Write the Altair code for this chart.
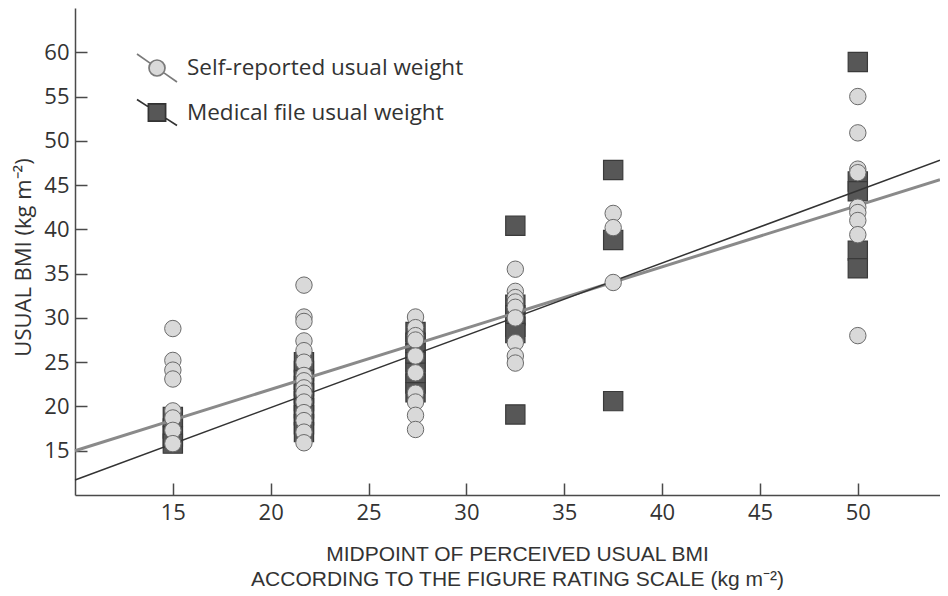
import altair as alt
import pandas as pd

# ---- data ----
x_ticks = [15, 20, 25, 30, 35, 40, 45, 50]
y_ticks = [15, 20, 25, 30, 35, 40, 45, 50, 55, 60]

self_x = ([15] * 8 + [21.7] * 15 + [27.4] * 10 + [32.5] * 9 + [37.5] * 3 + [50] * 9)
self_y = [28.8, 25.2, 24.1, 23.1, 19.5, 18.7, 17.3, 15.8,
          33.7, 30.1, 29.6, 27.4, 26.3, 25.0, 23.5, 22.9, 22.1, 21.5, 20.5, 19.3, 18.4, 17.1, 15.9,
          30.1, 28.9, 28.0, 27.5, 25.7, 23.8, 21.5, 20.5, 19.0, 17.4,
          35.5, 33.0, 32.3, 31.8, 31.2, 30.0, 27.2, 25.7, 24.9,
          41.8, 40.2, 34.0,
          55.0, 50.9, 46.8, 46.4, 42.5, 41.9, 41.0, 39.4, 28.0]

med_x = ([15] * 4 + [21.7] * 10 + [27.4] * 7 + [32.5] * 6 + [37.5] * 3 + [50] * 5)
med_y = [18.8, 17.5, 16.6, 15.8,
         25.0, 24.0, 23.0, 22.3, 21.5, 20.6, 19.8, 19.0, 18.0, 17.1,
         28.4, 27.2, 26.0, 25.0, 23.8, 22.6, 21.6,
         40.4, 31.5, 30.3, 29.0, 28.3, 19.1,
         46.7, 38.8, 20.6,
         58.9, 45.4, 44.3, 37.6, 35.6]

line_x = [10, 54.2]
self_line_y = [15.0, 45.6]
med_line_y = [11.7, 47.8]

series_names = ["Self-reported usual weight", "Medical file usual weight"]

FONT = "Open Sans"
XDOM = [10, 54.2]
YDOM = [10, 65]

self_df = pd.DataFrame({"x": self_x, "y": self_y})
med_df = pd.DataFrame({"x": med_x, "y": med_y})
self_line = pd.DataFrame({"x": line_x, "y": self_line_y})
med_line = pd.DataFrame({"x": line_x, "y": med_line_y})
legend_df = pd.DataFrame({"x": [self_x[0], med_x[0]], "y": [self_y[0], med_y[0]],
                          "series": series_names})

xs = alt.Scale(domain=XDOM, nice=False, zero=False)
ys = alt.Scale(domain=YDOM, nice=False, zero=False)

main_x_axis = alt.Axis(values=x_ticks, ticks=False, tickSize=0, grid=False, domain=True,
                       labelPadding=7, labelFontSize=22,
                       title=["MIDPOINT OF PERCEIVED USUAL BMI",
                              "ACCORDING TO THE FIGURE RATING SCALE (kg m\u207b\u00b2)"],
                       titleFont="Liberation Sans", titleFontSize=21,
                       titlePadding=20, titleLineHeight=25, titleX=442, titleAlign="center",
                       orient="bottom")
main_y_axis = alt.Axis(values=y_ticks, ticks=False, tickSize=0, grid=False, domain=True,
                       labelPadding=6, labelFontSize=22,
                       title="USUAL BMI (kg m\u207b\u00b2)", titlePadding=8, titleY=249,
                       orient="left")
tick_x_axis = alt.Axis(values=x_ticks, ticks=True, tickSize=12, labels=False, domain=False,
                       grid=False, title=None, offset=-12, orient="bottom")
tick_y_axis = alt.Axis(values=y_ticks, ticks=True, tickSize=12, labels=False, domain=False,
                       grid=False, title=None, offset=-12, orient="left")

squares = alt.Chart(med_df).mark_square(size=370, filled=True, fill="#575757",
                                        stroke="#3a3a3a", strokeWidth=1.2, opacity=1).encode(
    x=alt.X("x:Q", scale=xs, axis=main_x_axis),
    y=alt.Y("y:Q", scale=ys, axis=main_y_axis),
)

gray_line = alt.Chart(self_line).mark_line(color="#8a8a8a", strokeWidth=3).encode(
    x=alt.X("x:Q", scale=xs, axis=tick_x_axis),
    y=alt.Y("y:Q", scale=ys, axis=tick_y_axis),
)

black_line = alt.Chart(med_line).mark_line(color="#333333", strokeWidth=1.5).encode(
    x=alt.X("x:Q", scale=xs, axis=None),
    y=alt.Y("y:Q", scale=ys, axis=None),
)

circles = alt.Chart(self_df).mark_circle(size=270, fill="#d9d9d9", stroke="#6a6a6a",
                                         strokeWidth=1, opacity=1).encode(
    x=alt.X("x:Q", scale=xs, axis=None),
    y=alt.Y("y:Q", scale=ys, axis=None),
)

path_self = ("M-1,-0.7L-0.33,-0.23M0.33,0.23L1,0.7"
             "M0.4,0A0.4,0.4 0 1,1 -0.4,0A0.4,0.4 0 1,1 0.4,0Z")
path_med = ("M-1,-0.65L-0.43,-0.28M0.43,0.28L1,0.65"
            "M-0.43,-0.43L0.43,-0.43L0.43,0.43L-0.43,0.43Z")

leg = alt.Legend(title=None, orient="none", legendX=61, legendY=39, padding=0,
                 symbolSize=1600, symbolStrokeWidth=1.7, symbolOpacity=1,
                 labelFont=FONT, labelFontSize=22.5, labelColor="#333333",
                 labelOffset=9, rowPadding=5.5, labelLimit=400)

legend_layer = alt.Chart(legend_df).mark_point(filled=True, opacity=0).encode(
    x=alt.X("x:Q", scale=xs, axis=None),
    y=alt.Y("y:Q", scale=ys, axis=None),
    shape=alt.Shape("series:N", scale=alt.Scale(domain=series_names, range=[path_self, path_med]),
                    legend=leg),
    fill=alt.Fill("series:N", scale=alt.Scale(domain=series_names, range=["#d9d9d9", "#575757"]),
                  legend=leg),
    stroke=alt.Stroke("series:N", scale=alt.Scale(domain=series_names, range=["#7a7a7a", "#333333"]),
                      legend=leg),
)

chart = alt.layer(squares, gray_line, black_line, circles, legend_layer).resolve_axis(
    x="independent", y="independent"
).properties(
    width=865, height=487,
    autosize=alt.AutoSizeParams(type="none"),
    padding={"left": 67, "top": 0, "right": 0, "bottom": 100},
).configure_view(stroke=None).configure_axis(
    labelFont=FONT, titleFont=FONT, labelColor="#333333", titleColor="#333333",
    titleFontWeight="normal", titleFontSize=22, domainColor="#4a4a4a", domainWidth=1.5,
    tickColor="#4a4a4a", tickWidth=1.5,
)

chart.save("out.html", embed_options={"renderer": "svg", "actions": False})
